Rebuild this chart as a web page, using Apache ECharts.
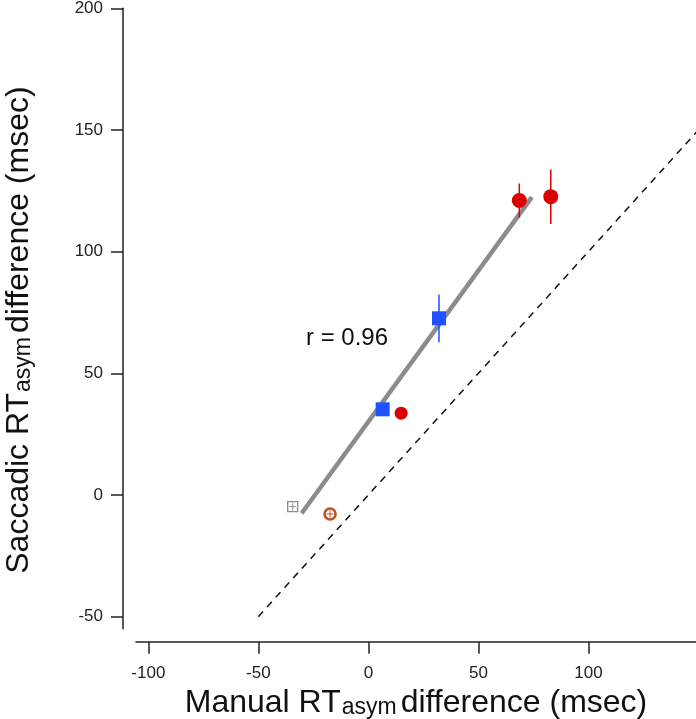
<!DOCTYPE html>
<html><head><meta charset="utf-8">
<script src="https://cdn.jsdelivr.net/npm/echarts@6/dist/echarts.min.js"></script>
<style>html,body{margin:0;padding:0;background:#fff}#c{width:696px;height:719px}</style>
</head><body><div id="c"></div>
<script>
// ---- data ----
const xTicks = [-100, -50, 0, 50, 100];
const yTicks = [-50, 0, 50, 100, 150, 200];
const redX = [68.6, 82.9, 14.9];
const redY = [121.0, 122.6, 33.6];
const redErr = [7.0, 11.2, 0];
const blueX = [32.1, 6.5];
const blueY = [72.6, 35.2];
const blueErr = [9.8, 0];
const greyX = [-34.4];
const greyY = [-4.8];
const greyErr = [1.6];
const brownX = [-17.4];
const brownY = [-7.8];
const brownErr = [1.6];
const fitX = [-30.3, 74.3];
const fitY = [-7.5, 122.4];
const unityX = [-50, 150];
const unityY = [-50, 150];
const rText = 'r = 0.96';

const FONT = '"Liberation Sans", Arial, Helvetica, sans-serif';
const RED = '#dd0000', BLUE = '#2050ff', GREY = '#8c8c8c', BROWN = '#c0501c', AX = '#222';

const zip = (xs, ys, es) => xs.map((x, i) => es ? [x, ys[i], es[i]] : [x, ys[i]]);

function errBars(color, both, width) {
  return function (params, api) {
    const x = api.value(0), y = api.value(1), e = api.value(2);
    const children = [];
    if (e > 0) {
      const a = api.coord([x, y - e]), b = api.coord([x, y + e]);
      children.push({type: 'line', shape: {x1: a[0], y1: a[1], x2: b[0], y2: b[1]}, style: {stroke: color, lineWidth: width}});
      if (both) {
        const c = api.coord([x - e, y]), d = api.coord([x + e, y]);
        children.push({type: 'line', shape: {x1: c[0], y1: c[1], x2: d[0], y2: d[1]}, style: {stroke: color, lineWidth: width}});
      }
    }
    return {type: 'group', children};
  };
}

const titleRich = {
  a: {fontSize: 32, lineHeight: 37, fontFamily: FONT, color: '#111', verticalAlign: 'bottom'},
  b: {fontSize: 23, lineHeight: 17, fontFamily: FONT, color: '#111', verticalAlign: 'bottom', padding: [0, 4, 0, 1]}
};

const chart = echarts.init(document.getElementById('c'), null, {renderer: 'canvas'});
chart.setOption({
  animation: false,
  backgroundColor: '#fff',
  textStyle: {fontFamily: FONT},
  grid: {left: 136, right: 0, top: 8.3, bottom: 90.2, containLabel: false, outerBoundsMode: 'none'},
  xAxis: {
    type: 'value', min: -105.6, max: 148.9, position: 'bottom', offset: 13,
    axisLine: {show: true, onZero: false, lineStyle: {color: AX, width: 1.5}},
    axisTick: {show: true, inside: false, length: 12, customValues: xTicks, lineStyle: {color: AX, width: 1.5}},
    axisLabel: {customValues: xTicks, margin: 23, fontSize: 17, color: AX, fontFamily: FONT},
    splitLine: {show: false},
    name: '{a|Manual RT}{b|asym}{a|difference (msec)}',
    nameLocation: 'middle', nameGap: 26.5,
    nameTextStyle: {fontFamily: FONT, color: '#111', rich: titleRich}
  },
  yAxis: {
    type: 'value', min: -55, max: 200, position: 'left', offset: 13,
    axisLine: {show: true, onZero: false, lineStyle: {color: AX, width: 1.5}},
    axisTick: {show: true, inside: false, length: 12, customValues: yTicks, lineStyle: {color: AX, width: 1.5}},
    axisLabel: {customValues: yTicks, margin: 20, fontSize: 17, color: AX, fontFamily: FONT},
    splitLine: {show: false},
    name: '{a|Saccadic RT}{b|asym}{a|difference (msec)}',
    nameLocation: 'middle', nameGap: 88, nameRotate: 90,
    nameTextStyle: {fontFamily: FONT, color: '#111', padding: [0, 23, 0, 0], rich: titleRich}
  },
  graphic: [{
    type: 'text', left: 306, top: 326,
    style: {text: rText, fontSize: 24, fontFamily: FONT, fill: '#111'}
  }],
  series: [
    {type: 'line', data: zip(unityX, unityY), showSymbol: false, symbol: 'none', clip: true, z: 1,
     lineStyle: {color: '#111', width: 1.5, type: [7, 6]}},
    {type: 'line', data: zip(fitX, fitY), showSymbol: false, symbol: 'none', z: 2,
     lineStyle: {color: GREY, width: 4.5}},
    {type: 'custom', renderItem: errBars(RED, false, 1.5), data: zip(redX, redY, redErr), z: 3},
    {type: 'custom', renderItem: errBars(BLUE, false, 1.5), data: zip(blueX, blueY, blueErr), z: 3},
    {type: 'scatter', data: zip(redX.slice(0, 2), redY.slice(0, 2)), symbol: 'circle', symbolSize: 15, z: 4,
     itemStyle: {color: RED, opacity: 1}},
    {type: 'scatter', data: zip(redX.slice(2), redY.slice(2)), symbol: 'circle', symbolSize: 13, z: 4,
     itemStyle: {color: RED, opacity: 1}},
    {type: 'scatter', data: zip(blueX, blueY), symbol: 'rect', symbolSize: 14, z: 4,
     itemStyle: {color: BLUE, opacity: 1}},
    {type: 'scatter', data: zip(greyX, greyY), symbol: 'rect', symbolSize: 10, z: 4,
     itemStyle: {color: 'rgba(255,255,255,0)', borderColor: GREY, borderWidth: 1.3, opacity: 1}},
    {type: 'scatter', data: zip(brownX, brownY), symbol: 'circle', symbolSize: 11, z: 4,
     itemStyle: {color: 'rgba(255,255,255,0)', borderColor: BROWN, borderWidth: 2.6, opacity: 1}},
    {type: 'custom', renderItem: errBars(GREY, true, 1), data: zip(greyX, greyY, greyErr), z: 5},
    {type: 'custom', renderItem: errBars(BROWN, true, 1), data: zip(brownX, brownY, brownErr), z: 5}
  ]
});
</script>
</body></html>
